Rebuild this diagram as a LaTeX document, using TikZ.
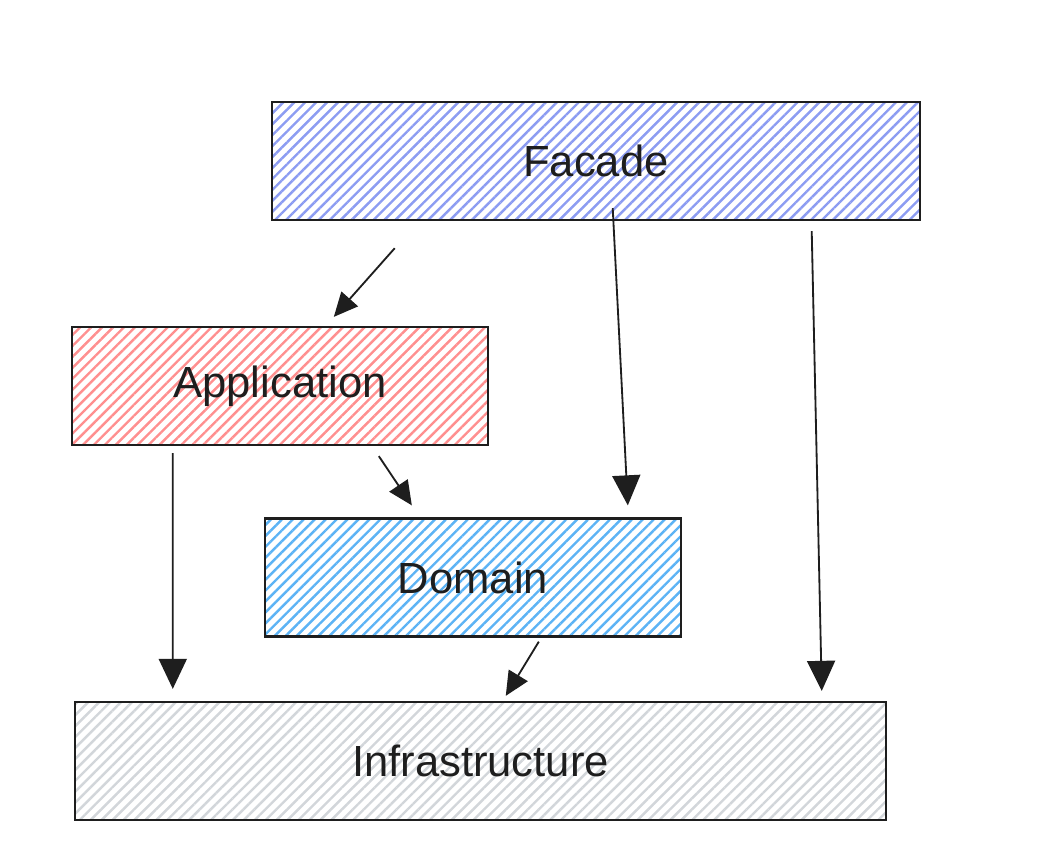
\documentclass[tikz,border=0pt]{standalone}
\usepackage{fontspec}
\setmainfont{Liberation Sans}
\usepackage{xcolor}
\usetikzlibrary{arrows.meta,patterns.meta,calc}
\definecolor{ink}{HTML}{1E1E1E}
\definecolor{facadeblue}{HTML}{8C9CF2}
\definecolor{appred}{HTML}{FF8F8F}
\definecolor{domainblue}{HTML}{5CB3F5}
\definecolor{infragray}{HTML}{D2D6DA}
\tikzset{
  layer/.style={draw=ink,line width=1.6pt,minimum height=2.95cm,inner sep=0pt,
    font=\fontsize{31}{36}\selectfont,text=ink},
  hatch/.style={pattern={Lines[angle=45,distance=5.5pt,line width=1.7pt]},pattern color=#1},
  arr/.style={draw=ink,line width=1.3pt,-{Triangle[length=0.75cm,width=0.7cm]}},
  sarr/.style={draw=ink,line width=1.3pt,-{Triangle[length=0.6cm,width=0.55cm]}},
}

\begin{document}
\begin{tikzpicture}[x=0.025cm,y=-0.025cm]
  \useasboundingbox[fill=white] (0,0) rectangle (1040,856);
  \node[layer,hatch=facadeblue,minimum width=16.2cm] (facade) at (596,161){Facade};
  \node[layer,hatch=appred,minimum width=10.4cm] (app) at (280,386){Application};
  \node[layer,hatch=domainblue,minimum width=10.4cm] (domain) at (473,577.5){Domain};
  \node[layer,hatch=infragray,minimum width=20.275cm] (infra) at (480.5,761){Infrastructure};
  \draw[sarr] ([shift={(124,27)}]facade.south west) -- ([shift={(263,-9)}]app.north west);
  \draw[sarr] ([shift={(308,10)}]app.south west) -- ([shift={(148,-12)}]domain.north west);
  \draw[sarr] ([shift={(275,4)}]domain.south west) -- ([shift={(432,-5)}]infra.north west);
  \draw[arr] ([shift={(342,-13)}]facade.south west) -- ([shift={(364,-12)}]domain.north west);
  \draw[arr] ([shift={(541,10)}]facade.south west) -- ([shift={(748,-10)}]infra.north west);
  \draw[arr] ([shift={(102,7)}]app.south west) -- ([shift={(99,-12)}]infra.north west);
\end{tikzpicture}
\end{document}
